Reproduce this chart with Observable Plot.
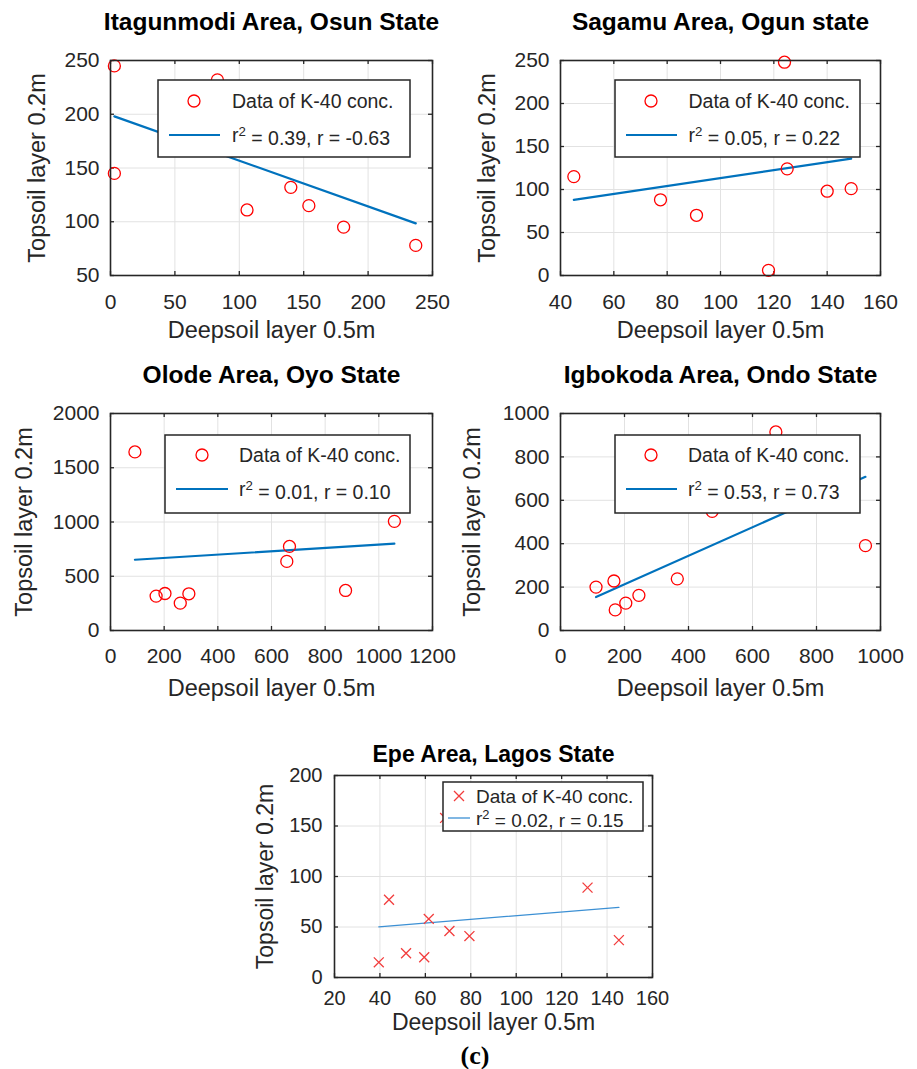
<!DOCTYPE html>
<html><head><meta charset="utf-8">
<script src="https://cdn.jsdelivr.net/npm/d3@7"></script>
<script src="https://cdn.jsdelivr.net/npm/@observablehq/plot@0.6"></script>
<style>
body{margin:0;background:#fff;}
#root{position:relative;width:917px;height:1069px;background:#fff;overflow:hidden;font-family:"Liberation Sans",Arial,sans-serif;}
#root > svg, #root > div {position:absolute;}
</style></head><body><div id="root"></div>
<script>
// ---------- data ----------
const titles = ["Itagunmodi Area, Osun State", "Sagamu Area, Ogun state", "Olode Area, Oyo State", "Igbokoda Area, Ondo State", "Epe Area, Lagos State"];
const xLabel = "Deepsoil layer 0.5m";
const yLabel = "Topsoil layer 0.2m";
const legendDataLabel = "Data of K-40 conc.";
const rSquared = ["0.39", "0.05", "0.01", "0.53", "0.02"];
const rValues = ["-0.63", "0.22", "0.10", "0.73", "0.15"];

// Itagunmodi
const itaDeep = [3, 3, 83, 106, 140, 154, 181, 237];
const itaTop  = [245, 145, 232, 111, 132, 115, 95, 78];
const itaFitX = [3, 237];
const itaFitY = [198, 98.5];
const itaXTicks = [0, 50, 100, 150, 200, 250];
const itaYTicks = [50, 100, 150, 200, 250];

// Sagamu
const sagDeep = [45, 77.5, 91, 118, 124, 125, 140, 149];
const sagTop  = [115, 88, 70, 6, 248, 124, 98, 101];
const sagFitX = [45, 149];
const sagFitY = [88, 136];
const sagXTicks = [40, 60, 80, 100, 120, 140, 160];
const sagYTicks = [0, 50, 100, 150, 200, 250];

// Olode
const oloDeep = [91, 170, 203, 260, 292, 657, 667, 876, 1058];
const oloTop  = [1646, 317, 341, 252, 338, 637, 775, 369, 1006];
const oloFitX = [91, 1058];
const oloFitY = [652, 800];
const oloXTicks = [0, 200, 400, 600, 800, 1000, 1200];
const oloYTicks = [0, 500, 1000, 1500, 2000];

// Igbokoda
const igbDeep = [111, 167, 171, 204, 245, 365, 474, 673, 953];
const igbTop  = [200, 228, 95, 126, 162, 238, 549, 915, 391];
const igbFitX = [111, 953];
const igbFitY = [154, 708];
const igbXTicks = [0, 200, 400, 600, 800, 1000];
const igbYTicks = [0, 200, 400, 600, 800, 1000];

// Epe
const epeDeep = [39.5, 44, 51.5, 59.5, 61.5, 68.7, 70.6, 79.4, 131.4, 145.2];
const epeTop  = [15, 77, 24, 20, 58, 158, 46, 41, 89, 37];
const epeFitX = [39.5, 145.2];
const epeFitY = [50.2, 69.4];
const epeXTicks = [20, 40, 60, 80, 100, 120, 140, 160];
const epeYTicks = [0, 50, 100, 150, 200];

const figureTag = "(c)";

// ---------- drawing ----------
const root = document.getElementById("root");
const FONT = "Liberation Sans, Arial, Helvetica, sans-serif";

function panel(p) {
  const fw = p.width - p.ml - p.mr, fh = p.height - p.mt - p.mb;
  const pts = p.xs.map((x, i) => ({x, y: p.ys[i]}));
  const fit = p.fitX.map((x, i) => ({x, y: p.fitY[i]}));
  const tl = 4;
  const chart = Plot.plot({
    width: p.width, height: p.height,
    marginLeft: p.ml, marginRight: p.mr, marginTop: p.mt, marginBottom: p.mb,
    style: {background: "none", fontFamily: FONT, fontSize: p.tickFont + "px", color: "#262626", overflow: "visible"},
    x: {domain: [p.xTicks[0], p.xTicks[p.xTicks.length - 1]]},
    y: {domain: [p.yTicks[0], p.yTicks[p.yTicks.length - 1]]},
    marks: [
      Plot.ruleX(p.xTicks, {x: d => d, stroke: "#e2e2e2", strokeWidth: 1}),
      Plot.ruleY(p.yTicks, {y: d => d, stroke: "#e2e2e2", strokeWidth: 1}),
      Plot.ruleX(p.xTicks, {x: d => d, stroke: "#262626", strokeWidth: 1.3, insetTop: fh - tl}),
      Plot.ruleX(p.xTicks, {x: d => d, stroke: "#262626", strokeWidth: 1.3, insetBottom: fh - tl}),
      Plot.ruleY(p.yTicks, {y: d => d, stroke: "#262626", strokeWidth: 1.3, insetRight: fw - tl}),
      Plot.ruleY(p.yTicks, {y: d => d, stroke: "#262626", strokeWidth: 1.3, insetLeft: fw - tl}),
      Plot.line(fit, {x: "x", y: "y", stroke: p.lineColor, strokeWidth: p.lineWidth}),
      Plot.dot(pts, {x: "x", y: "y", r: p.r, symbol: p.symbol, stroke: p.markColor, strokeWidth: 1.3, fill: "none"}),
      Plot.frame({stroke: "#262626", strokeWidth: 1.6}),
      Plot.axisX(p.xTicks, {tickSize: 0, tickPadding: p.xPad, label: null, tickFormat: d => String(d), fontSize: p.tickFont, fill: "#262626"}),
      Plot.axisY(p.yTicks, {tickSize: 0, tickPadding: p.yPad, label: null, tickFormat: d => String(d), fontSize: p.tickFont, fill: "#262626"}),
      Plot.text([p.title], {text: d => d, frameAnchor: "top", dy: p.titleDy, textAnchor: "middle", lineAnchor: "middle", fontSize: p.titleFont, fontWeight: "bold", fill: "#000"}),
      Plot.text([xLabel], {text: d => d, frameAnchor: "bottom", dy: p.xLabelDy, textAnchor: "middle", lineAnchor: "middle", fontSize: p.labelFont, fill: "#262626"}),
      Plot.text([yLabel], {text: d => d, frameAnchor: "left", dx: p.yLabelDx, rotate: -90, textAnchor: "middle", lineAnchor: "middle", fontSize: p.labelFont, fill: "#262626"})
    ]
  });
  chart.style.left = p.left + "px";
  chart.style.top = p.top + "px";
  root.appendChild(chart);
}

const common = {r: 6, symbol: "circle", markColor: "#ff0000", lineColor: "#0072BD", lineWidth: 2.2,
  tickFont: 21, titleFont: 24.5, labelFont: 23.5};

panel({...common, left: 0, top: 0, width: 460, height: 350, ml: 110, mr: 28, mt: 60, mb: 75,
  xs: itaDeep, ys: itaTop, fitX: itaFitX, fitY: itaFitY, xTicks: itaXTicks, yTicks: itaYTicks,
  title: titles[0], titleDy: -38, xPad: 19, yPad: 11, xLabelDy: 55, yLabelDx: -73});
panel({...common, left: 457, top: 0, width: 460, height: 350, ml: 103, mr: 37, mt: 60, mb: 75,
  xs: sagDeep, ys: sagTop, fitX: sagFitX, fitY: sagFitY, xTicks: sagXTicks, yTicks: sagYTicks,
  title: titles[1], titleDy: -38, xPad: 19, yPad: 11, xLabelDy: 55, yLabelDx: -73});
panel({...common, left: 0, top: 345, width: 460, height: 360, ml: 110, mr: 28, mt: 68, mb: 75,
  xs: oloDeep, ys: oloTop, fitX: oloFitX, fitY: oloFitY, xTicks: oloXTicks, yTicks: oloYTicks,
  title: titles[2], titleDy: -38, xPad: 18, yPad: 11, xLabelDy: 58, yLabelDx: -86});
panel({...common, left: 457, top: 345, width: 460, height: 360, ml: 103, mr: 37, mt: 68, mb: 75,
  xs: igbDeep, ys: igbTop, fitX: igbFitX, fitY: igbFitY, xTicks: igbXTicks, yTicks: igbYTicks,
  title: titles[3], titleDy: -38, xPad: 18, yPad: 11, xLabelDy: 58, yLabelDx: -88});
panel({...common, r: 4.6, symbol: "times", markColor: "#f23c3c", lineColor: "#3c90d4", lineWidth: 1.3,
  tickFont: 20, titleFont: 23, labelFont: 23,
  left: 240, top: 720, width: 440, height: 330, ml: 94, mr: 28, mt: 55, mb: 73,
  xs: epeDeep, ys: epeTop, fitX: epeFitX, fitY: epeFitY, xTicks: epeXTicks, yTicks: epeYTicks,
  title: titles[4], titleDy: -21, xPad: 13, yPad: 12, xLabelDy: 45, yLabelDx: -69});

// ---------- legends (overlay) ----------
const legends = [
  {x: 158, y: 80, w: 252, h: 77, mx: 194, tx: 232, y1: 101, y2: 135, lx1: 169, lx2: 220, sym: "circle", color: "#ff0000", lc: "#0072BD", lw: 2.2, fs: 19.5},
  {x: 615, y: 80, w: 245, h: 77, mx: 651, tx: 688.5, y1: 101, y2: 135, lx1: 626, lx2: 677, sym: "circle", color: "#ff0000", lc: "#0072BD", lw: 2.2, fs: 19.5},
  {x: 165, y: 435, w: 245, h: 78, mx: 202, tx: 239, y1: 455, y2: 489, lx1: 176, lx2: 228, sym: "circle", color: "#ff0000", lc: "#0072BD", lw: 2.2, fs: 19.5},
  {x: 615, y: 435, w: 245, h: 78, mx: 651, tx: 688, y1: 455, y2: 489, lx1: 626, lx2: 677, sym: "circle", color: "#ff0000", lc: "#0072BD", lw: 2.2, fs: 19.5},
  {x: 443, y: 782, w: 200, h: 49, mx: 459, tx: 476, y1: 796, y2: 818, lx1: 448, lx2: 470, sym: "times", color: "#f23c3c", lc: "#3c90d4", lw: 1.3, fs: 19}
];
const ov = d3.select(root).append("svg")
  .attr("width", 917).attr("height", 1069)
  .style("left", "0px").style("top", "0px")
  .style("font-family", FONT);
legends.forEach((L, i) => {
  const g = ov.append("g");
  g.append("rect").attr("x", L.x).attr("y", L.y).attr("width", L.w).attr("height", L.h)
    .attr("fill", "#fff").attr("stroke", "#262626").attr("stroke-width", 1.5);
  if (L.sym === "circle") {
    g.append("circle").attr("cx", L.mx).attr("cy", L.y1).attr("r", 6)
      .attr("fill", "none").attr("stroke", L.color).attr("stroke-width", 1.3);
  } else {
    const s = 5;
    g.append("path").attr("d", `M${L.mx - s},${L.y1 - s}L${L.mx + s},${L.y1 + s}M${L.mx - s},${L.y1 + s}L${L.mx + s},${L.y1 - s}`)
      .attr("stroke", L.color).attr("stroke-width", 1.3);
  }
  g.append("line").attr("x1", L.lx1).attr("x2", L.lx2).attr("y1", L.y2).attr("y2", L.y2)
    .attr("stroke", L.lc).attr("stroke-width", L.lw);
  g.append("text").attr("x", L.tx).attr("y", L.y1).attr("dy", "0.35em")
    .attr("font-size", L.fs).attr("fill", "#262626").text(legendDataLabel);
  const t = g.append("text").attr("x", L.tx).attr("y", L.y2).attr("dy", "0.35em")
    .attr("font-size", L.fs).attr("fill", "#262626");
  t.append("tspan").text("r");
  t.append("tspan").attr("font-size", L.fs * 0.68).attr("dy", "-0.45em").text("2");
  t.append("tspan").attr("dy", "0.45em").attr("font-size", L.fs).text(` = ${rSquared[i]}, r = ${rValues[i]}`);
});
ov.append("text").attr("x", 475).attr("y", 1064)
  .attr("text-anchor", "middle").attr("font-family", "Liberation Serif, Times New Roman, serif")
  .attr("font-weight", "bold").attr("font-size", 26).attr("fill", "#000").text(figureTag);
</script></body></html>
